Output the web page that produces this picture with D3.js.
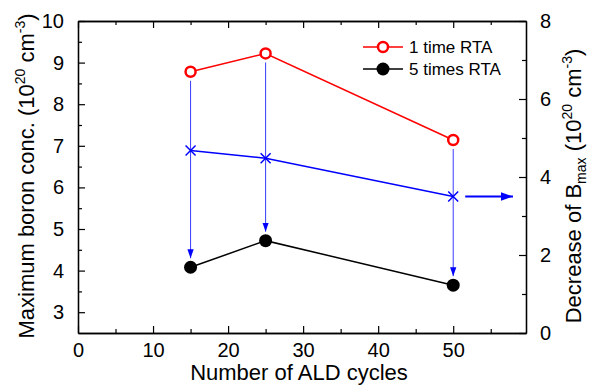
<!DOCTYPE html>
<html>
<head>
<meta charset="utf-8">
<title>Boron concentration vs ALD cycles</title>
<script src="https://d3js.org/d3.v7.min.js"></script>
<style>
  body { margin: 0; background: #fff; }
  text { font-family: "Liberation Sans", Arial, sans-serif; fill: #000; }
</style>
</head>
<body>
<script>
// data
var cycles = [15, 25, 50];
var oneTimeRTA = [8.78, 9.22, 7.14];
var fiveTimesRTA = [4.08, 4.72, 3.65];
var decreaseBmax = [4.68, 4.48, 3.5];
var xTicks = [0, 10, 20, 30, 40, 50];
var yLeftTicks = [3, 4, 5, 6, 7, 8, 9, 10];
var yRightTicks = [0, 2, 4, 6, 8];

var w = 589, h = 387;
var m = {left: 78, right: 63, top: 21, bottom: 54};
var iw = w - m.left - m.right, ih = h - m.top - m.bottom;

var svg = d3.select("body").append("svg").attr("width", w).attr("height", h);
var g = svg.append("g").attr("transform", "translate(" + m.left + "," + m.top + ")");

var x = d3.scaleLinear().domain([0, 59.7]).range([0, iw]);
var yL = d3.scaleLinear().domain([2.5, 10]).range([ih, 0]);
var yR = d3.scaleLinear().domain([0, 8]).range([ih, 0]);

var defs = svg.append("defs");
function arrowMarker(id, size) {
  defs.append("marker").attr("id", id)
    .attr("viewBox", "0 0 10 10").attr("refX", 10).attr("refY", 5)
    .attr("markerWidth", size).attr("markerHeight", size)
    .attr("markerUnits", "userSpaceOnUse")
    .attr("orient", "auto")
    .append("path").attr("d", "M0,1.5L10,5L0,8.5Z").attr("fill", "#0000ff");
}
arrowMarker("arrThin", 9);
arrowMarker("arrThick", 12);

// axes (ticks inward)
function styleAxis(sel) {
  sel.select(".domain").attr("stroke", "#000").attr("stroke-width", 1.3);
  sel.selectAll(".tick line").attr("stroke", "#000").attr("stroke-width", 1.2);
  sel.selectAll(".tick text").style("font-size", "20px").attr("fill", "#000");
}
var minorX = d3.range(5, 60, 10);
var bottomAx = g.append("g").attr("transform", "translate(0," + ih + ")")
  .call(d3.axisBottom(x).tickValues(xTicks).tickSizeInner(-7).tickSizeOuter(0).tickPadding(10));
styleAxis(bottomAx);
g.append("g").attr("transform", "translate(0," + ih + ")")
  .call(d3.axisBottom(x).tickValues(minorX).tickSizeInner(-4).tickSizeOuter(0).tickFormat(""))
  .call(styleAxis);

var topAx = g.append("g")
  .call(d3.axisTop(x).tickValues(xTicks).tickSizeInner(-7).tickSizeOuter(0).tickFormat(""));
styleAxis(topAx);
g.append("g").call(d3.axisTop(x).tickValues(minorX).tickSizeInner(-4).tickSizeOuter(0).tickFormat("")).call(styleAxis);

var leftAx = g.append("g")
  .call(d3.axisLeft(yL).tickValues(yLeftTicks).tickSizeInner(-7).tickSizeOuter(0).tickPadding(14).tickFormat(d3.format("d")));
styleAxis(leftAx);
g.append("g").call(d3.axisLeft(yL).tickValues(d3.range(3.5, 10, 1)).tickSizeInner(-4).tickSizeOuter(0).tickFormat("")).call(styleAxis);

var rightAx = g.append("g").attr("transform", "translate(" + iw + ",0)")
  .call(d3.axisRight(yR).tickValues(yRightTicks).tickSizeInner(-7).tickSizeOuter(0).tickPadding(14));
styleAxis(rightAx);
g.append("g").attr("transform", "translate(" + iw + ",0)")
  .call(d3.axisRight(yR).tickValues([1, 3, 5, 7]).tickSizeInner(-4).tickSizeOuter(0).tickFormat("")).call(styleAxis);

// vertical arrows from 1 time to 5 times
g.selectAll(".varrow").data(cycles).enter().append("line")
  .attr("x1", function (d) { return x(d); })
  .attr("x2", function (d) { return x(d); })
  .attr("y1", function (d, i) { return yL(oneTimeRTA[i]) + 9; })
  .attr("y2", function (d, i) { return yL(fiveTimesRTA[i]) - 9; })
  .attr("stroke", "#3a3aff").attr("stroke-width", 1)
  .attr("marker-end", "url(#arrThin)");

// lines
var pts = function (ys, sc) { return cycles.map(function (c, i) { return [x(c), sc(ys[i])]; }); };
var line = d3.line();
g.append("path").attr("d", line(pts(decreaseBmax, yR))).attr("fill", "none").attr("stroke", "#0000ff").attr("stroke-width", 1.5);
g.append("path").attr("d", line(pts(oneTimeRTA, yL))).attr("fill", "none").attr("stroke", "#ff0000").attr("stroke-width", 1.5);
g.append("path").attr("d", line(pts(fiveTimesRTA, yL))).attr("fill", "none").attr("stroke", "#000").attr("stroke-width", 1.5);

// x markers for decrease
g.selectAll(".xm").data(cycles).enter().append("path")
  .attr("transform", function (d, i) { return "translate(" + x(d) + "," + yR(decreaseBmax[i]) + ")"; })
  .attr("d", "M-5,-5L5,5M-5,5L5,-5")
  .attr("stroke", "#0000ff").attr("stroke-width", 1.5).attr("fill", "none");

g.selectAll(".red").data(cycles).enter().append("circle")
  .attr("cx", function (d) { return x(d); })
  .attr("cy", function (d, i) { return yL(oneTimeRTA[i]); })
  .attr("r", 5).attr("fill", "#fff").attr("stroke", "#ff0000").attr("stroke-width", 2.5);

g.selectAll(".blk").data(cycles).enter().append("circle")
  .attr("cx", function (d) { return x(d); })
  .attr("cy", function (d, i) { return yL(fiveTimesRTA[i]); })
  .attr("r", 6.5).attr("fill", "#000");

// arrow pointing to right axis
g.append("line")
  .attr("x1", x(50) + 12).attr("x2", iw - 13)
  .attr("y1", yR(decreaseBmax[2])).attr("y2", yR(decreaseBmax[2]))
  .attr("stroke", "#0000ff").attr("stroke-width", 2)
  .attr("marker-end", "url(#arrThick)");

// legend
var legend = [
  {label: "1 time RTA", color: "#ff0000", open: true},
  {label: "5 times RTA", color: "#000", open: false}
];
var lg = svg.append("g").attr("transform", "translate(363,47)");
legend.forEach(function (d, i) {
  var row = lg.append("g").attr("transform", "translate(0," + i * 22 + ")");
  row.append("line").attr("x1", 0).attr("x2", 40).attr("stroke", d.color).attr("stroke-width", 1.5);
  row.append("circle").attr("cx", 20).attr("r", d.open ? 5 : 6.5)
    .attr("fill", d.open ? "#fff" : "#000").attr("stroke", d.color).attr("stroke-width", d.open ? 2.5 : 0);
  row.append("text").attr("x", 46).attr("y", 6).style("font-size", "17px").text(d.label);
});

// axis titles
svg.append("text").attr("x", 299).attr("y", 380)
  .attr("text-anchor", "middle").style("font-size", "22px").text("Number of ALD cycles");

var lt = svg.append("text").attr("transform", "translate(34,176) rotate(-90)")
  .attr("text-anchor", "middle").style("font-size", "22px");
lt.append("tspan").text("Maximum boron conc. (10");
lt.append("tspan").attr("dy", -9).style("font-size", "14px").text("20");
lt.append("tspan").attr("dy", 9).text(" cm");
lt.append("tspan").attr("dy", -9).style("font-size", "14px").text("-3");
lt.append("tspan").attr("dy", 9).text(")");

var rt = svg.append("text").attr("transform", "translate(581,186) rotate(-90)")
  .attr("text-anchor", "middle").style("font-size", "22px");
rt.append("tspan").text("Decrease of B");
rt.append("tspan").attr("dy", 5).style("font-size", "14px").text("max");
rt.append("tspan").attr("dy", -5).text(" (10");
rt.append("tspan").attr("dy", -9).style("font-size", "14px").text("20");
rt.append("tspan").attr("dy", 9).text(" cm");
rt.append("tspan").attr("dy", -9).style("font-size", "14px").text("-3");
rt.append("tspan").attr("dy", 9).text(")");
</script>
</body>
</html>
